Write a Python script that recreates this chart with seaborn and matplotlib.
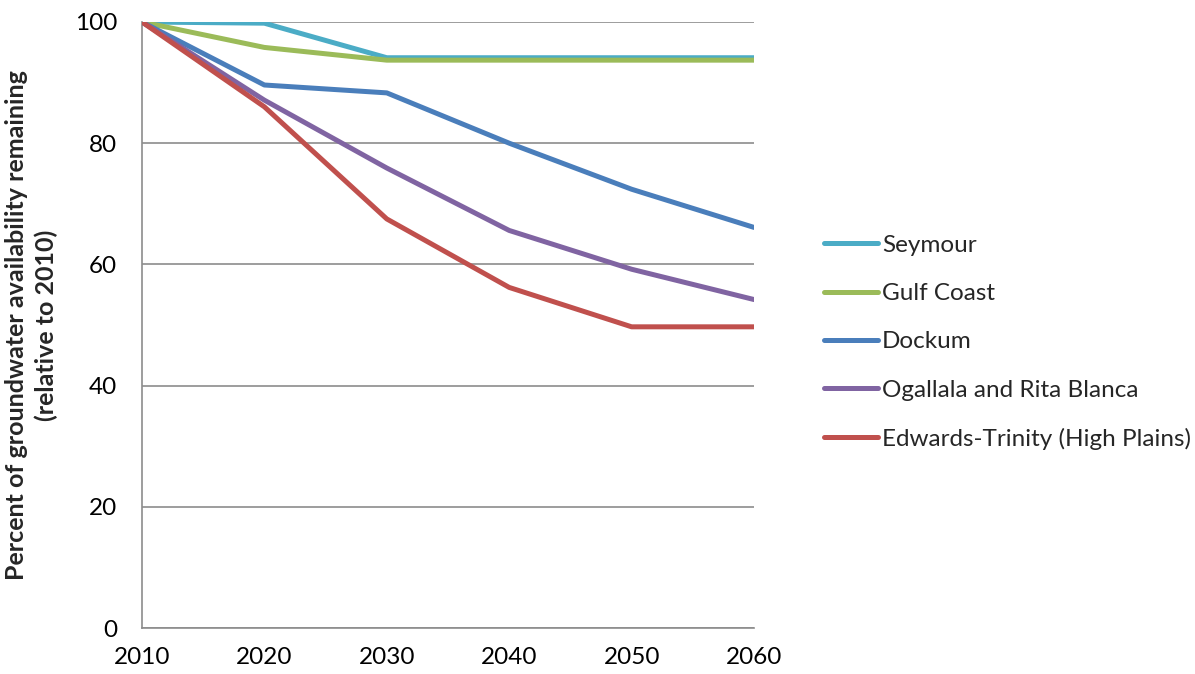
import matplotlib
matplotlib.use("Agg")
import matplotlib.pyplot as plt
import seaborn as sns
import pandas as pd

years = [2010, 2020, 2030, 2040, 2050, 2060]
seymour = [100, 99.8, 94.1, 94.1, 94.1, 94.1]
gulf_coast = [100, 95.8, 93.7, 93.7, 93.7, 93.7]
dockum = [100, 89.6, 88.3, 80.0, 72.4, 66.1]
ogallala = [100, 87.1, 75.9, 65.6, 59.2, 54.2]
edwards_trinity = [100, 86.0, 67.5, 56.2, 49.7, 49.7]

series_names = ["Seymour", "Gulf Coast", "Dockum",
                "Ogallala and Rita Blanca", "Edwards-Trinity (High Plains)"]
series_values = [seymour, gulf_coast, dockum, ogallala, edwards_trinity]
colors = ["#4BACC6", "#9BBB59", "#4A7EBB", "#8064A2", "#C0504D"]

rows = []
for name, vals in zip(series_names, series_values):
    for yr, v in zip(years, vals):
        rows.append({"Year": yr, "Value": v, "Aquifer": name})
df = pd.DataFrame(rows)

sns.set_style("white")
plt.rcParams["font.family"] = ["Lato", "DejaVu Sans"]

fig = plt.figure(figsize=(11.95, 6.74), dpi=100)
ax = fig.add_axes([0.1188, 0.0682, 0.5122, 0.8992])

sns.lineplot(data=df, x="Year", y="Value", hue="Aquifer", hue_order=series_names,
             palette=colors, linewidth=3.6, ax=ax, legend=False, zorder=3)

ax.set_xlim(2010, 2060)
ax.set_ylim(0, 100)
ax.set_xticks(years)
ax.set_yticks([0, 20, 40, 60, 80, 100])
ax.tick_params(axis="both", labelsize=17.5, length=0, colors="black")
ax.tick_params(axis="y", pad=18)
ax.tick_params(axis="x", pad=14)
ax.yaxis.grid(True, color="#8C8C8C", linewidth=1.2)
ax.xaxis.grid(False)
for side in ["top", "right"]:
    ax.spines[side].set_visible(False)
for side in ["left", "bottom"]:
    ax.spines[side].set_color("#8C8C8C")
    ax.spines[side].set_linewidth(1.2)

ax.set_xlabel("")
ax.set_ylabel("Percent of groundwater availability remaining\n(relative to 2010)",
              fontsize=18, fontweight="bold", labelpad=12, linespacing=1.35)

handles = [plt.Line2D([], [], color=c, linewidth=3.6, solid_capstyle="round") for c in colors]
fig.legend(handles, series_names, loc="upper left", bbox_to_anchor=(0.681, 0.666),
           frameon=False, fontsize=17.5, handlelength=2.25, handletextpad=0.15,
           labelspacing=1.12, borderaxespad=0)

fig.savefig("out.png", dpi=100)
